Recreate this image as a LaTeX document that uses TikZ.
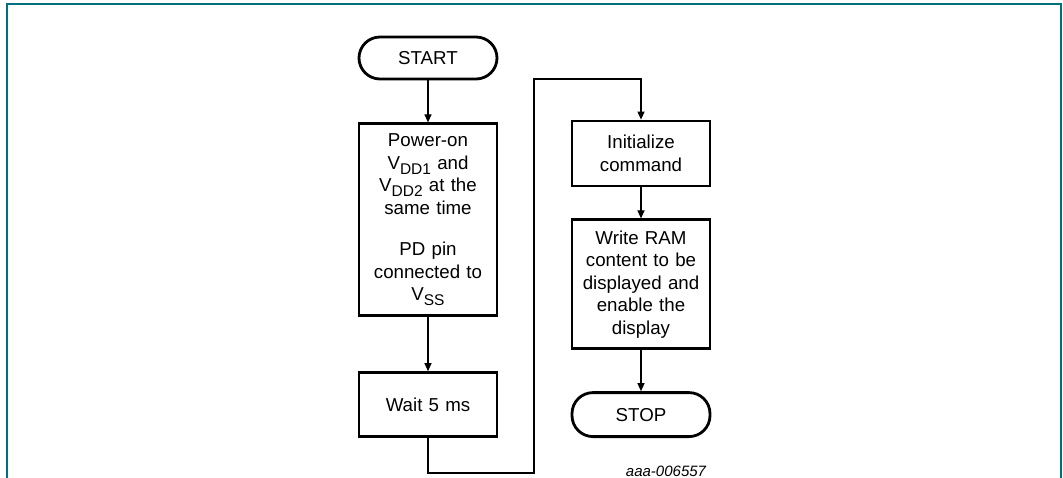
\documentclass[tikz,border=0pt]{standalone}
\usepackage{fontspec}
\setmainfont{Liberation Sans}
\usetikzlibrary{positioning}
\usetikzlibrary{arrows.meta}
\definecolor{framecol}{RGB}{0,112,127}
\newcommand{\lowsub}[1]{\raisebox{-0.28em}{\fontsize{15.5}{15.5}\selectfont #1}}

\begin{document}
\begin{tikzpicture}
		[x=1pt, y=-1pt, >={Triangle[length=8pt,width=7pt]},
		procbox/.style={draw=black, line width=2.8pt, text width=132pt, minimum width=138pt, align=center, inner sep=0pt, font=\fontsize{18.7}{22.5}\selectfont},
		terminal/.style={draw=black, line width=2.8pt, rounded corners=21pt, minimum width=138pt, minimum height=42pt, font=\fontsize{18.7}{22.5}\selectfont},
		flow/.style={->, line width=1.2pt}]
		\useasboundingbox (0,0) rectangle (1063,478);
		\draw[framecol, line width=2pt] (7,478) -- (7,4) -- (1061,4) -- (1061,478);
		\node[terminal] (start) at (428,58) {START};
		\node[procbox, minimum height=192pt, below=42pt of start] (power)
			{Power-on\\ V\lowsub{DD1} and\\ V\lowsub{DD2} at the\\ same time\\[19pt] PD pin\\ connected to\\ V\lowsub{SS}};
		\node[procbox, minimum height=64pt, below=54pt of power] (wait) {Wait 5 ms};
		\node[procbox, minimum height=65pt] (init) at (641,153.5) {Initialize\\ command};
		\node[procbox, minimum height=129pt, below=31pt of init] (write)
			{Write RAM\\ content to be\\ displayed and\\ enable the\\ display};
		\node[terminal, minimum height=44pt, below=41pt of write] (stop) {STOP};
		\node[font=\fontsize{15}{15}\selectfont\itshape] (code) at (666,471) {aaa-006557};
		\coordinate (turn1) at (534,473);
		\coordinate (turn2) at (641,79);
		\draw[flow] (start) -- (power);
		\draw[flow] (power) -- (wait);
		\draw[flow] (wait.south) |- (turn1) |- (turn2) -- (init.north);
		\draw[flow] (init) -- (write);
		\draw[flow] (write) -- (stop);
	\end{tikzpicture}
\end{document}
